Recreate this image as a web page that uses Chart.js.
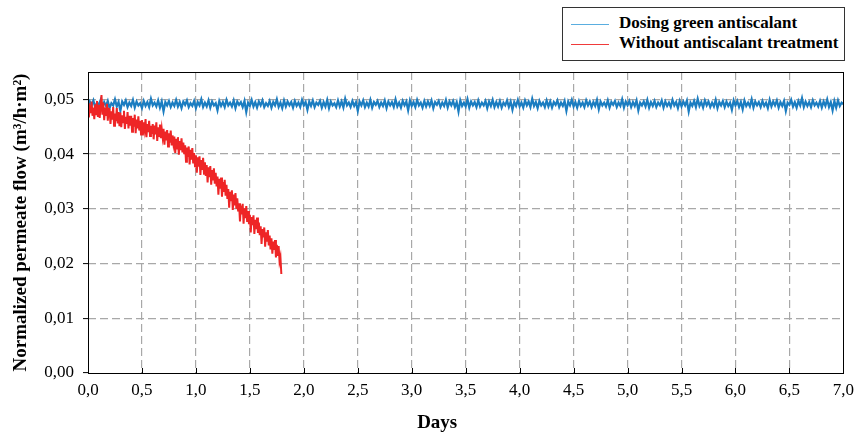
<!DOCTYPE html>
<html>
<head>
<meta charset="utf-8">
<title>Normalized permeate flow</title>
<script src="https://cdn.jsdelivr.net/npm/chart.js@4.4.1/dist/chart.umd.min.js"></script>
<style>
    body { margin: 0; background: #fff; }
    #wrap { position: relative; width: 861px; height: 439px; }
    #legend {
        position: absolute; left: 562px; top: 7px; width: 281px; height: 52px;
        border: 1px solid #333; background: #fff;
        font: bold 17px "Liberation Serif", "Times New Roman", serif; color: #000;
    }
    #legend .item { position: absolute; left: 8px; height: 20px; line-height: 20px; white-space: nowrap; }
    #legend .swatch { display: inline-block; width: 38px; height: 0; border-top: 1px solid; vertical-align: middle; margin-right: 10px; }
</style>
</head>
<body>
<div id="wrap">
    <canvas id="flowChart" width="861" height="439"></canvas>
    <div id="legend"></div>
</div>
<script>
// series names / colours
const seriesNames = ["Dosing green antiscalant", "Without antiscalant treatment"];
const seriesColors = ["#1b7dc1", "#ee2526"];

// sampling step (days) of each logged series
const blueStep = 7 / 420;
const redStep = 1 / 120;

// Dosing green antiscalant - normalized flow, m3/h·m2
const blueFlow = [
    .0487,.0496,.0489,.0498,.0485,.0494,.0490,.0499,.0486,.0495,.0488,.0497,.0484,.0493,.0489,.0500,.0487,.0495,.0479,.0496,
    .0490,.0498,.0486,.0494,.0488,.0499,.0485,.0496,.0489,.0493,.0484,.0497,.0488,.0495,.0486,.0501,.0489,.0494,.0487,.0498,
    .0485,.0496,.0478,.0495,.0489,.0497,.0486,.0494,.0488,.0499,.0487,.0495,.0484,.0496,.0490,.0498,.0486,.0493,.0488,.0497,
    .0484,.0495,.0489,.0500,.0486,.0494,.0487,.0498,.0485,.0496,.0489,.0493,.0480,.0497,.0488,.0495,.0486,.0499,.0489,.0494,
    .0487,.0498,.0484,.0496,.0490,.0495,.0486,.0497,.0477,.0494,.0488,.0499,.0487,.0495,.0485,.0496,.0489,.0498,.0486,.0493,
    .0488,.0497,.0485,.0495,.0489,.0500,.0486,.0494,.0484,.0498,.0487,.0496,.0489,.0495,.0485,.0497,.0488,.0494,.0486,.0499,
    .0489,.0495,.0481,.0496,.0488,.0498,.0486,.0494,.0490,.0497,.0485,.0495,.0487,.0499,.0484,.0496,.0489,.0493,.0486,.0498,
    .0487,.0496,.0485,.0501,.0489,.0494,.0486,.0497,.0488,.0495,.0479,.0496,.0489,.0498,.0486,.0494,.0487,.0499,.0485,.0495,
    .0490,.0497,.0486,.0494,.0488,.0498,.0484,.0496,.0489,.0495,.0486,.0500,.0487,.0494,.0485,.0497,.0489,.0496,.0480,.0498,
    .0488,.0495,.0486,.0499,.0489,.0494,.0485,.0497,.0487,.0496,.0488,.0498,.0484,.0495,.0490,.0497,.0486,.0494,.0488,.0499,
    .0485,.0496,.0489,.0497,.0486,.0495,.0478,.0498,.0488,.0494,.0487,.0500,.0485,.0496,.0489,.0495,.0486,.0498,.0487,.0494,
    .0489,.0497,.0484,.0496,.0488,.0499,.0486,.0495,.0487,.0497,.0485,.0494,.0489,.0498,.0486,.0496,.0481,.0495,.0488,.0499,
    .0487,.0494,.0485,.0498,.0489,.0496,.0486,.0501,.0488,.0495,.0484,.0497,.0489,.0494,.0486,.0498,.0487,.0496,.0485,.0495,
    .0490,.0498,.0486,.0494,.0488,.0497,.0479,.0496,.0489,.0499,.0487,.0495,.0485,.0497,.0488,.0494,.0486,.0498,.0489,.0496,
    .0486,.0495,.0488,.0499,.0482,.0496,.0489,.0494,.0487,.0498,.0485,.0495,.0490,.0497,.0486,.0494,.0488,.0500,.0485,.0496,
    .0489,.0497,.0486,.0495,.0488,.0498,.0480,.0494,.0489,.0496,.0487,.0499,.0485,.0495,.0488,.0497,.0486,.0494,.0489,.0498,
    .0485,.0496,.0488,.0494,.0486,.0499,.0489,.0495,.0484,.0497,.0487,.0496,.0489,.0498,.0478,.0494,.0488,.0497,.0486,.0501,
    .0488,.0495,.0485,.0498,.0489,.0496,.0486,.0494,.0487,.0499,.0484,.0495,.0489,.0497,.0486,.0496,.0488,.0494,.0481,.0498,
    .0489,.0497,.0486,.0495,.0482,.0498,.0488,.0494,.0487,.0500,.0485,.0496,.0489,.0495,.0486,.0497,.0488,.0494,.0484,.0499,
    .0487,.0496,.0489,.0498,.0485,.0495,.0488,.0497,.0479,.0494,.0490,.0499,.0487,.0495,.0485,.0497,.0489,.0502,.0486,.0496,
    .0488,.0495,.0486,.0498,.0489,.0494,.0487,.0497,.0485,.0496,.0488,.0500,.0486,.0495,.0480,.0497,.0485,.0498,.0488,.0494,
    .0491
];

// Without antiscalant treatment - normalized flow, m3/h·m2
const redFlow = [
    .0493,.0467,.0489,.0475,.0496,.0470,.0485,.0464,.0491,.0473,.0497,.0468,
    .0490,.0466,.0487,.0508,.0472,.0494,.0462,.0485,.0470,.0492,.0461,.0483,
    .0482,.0455,.0478,.0463,.0486,.0452,.0474,.0460,.0484,.0456,.0477,.0451,
    .0476,.0449,.0471,.0458,.0479,.0446,.0468,.0455,.0477,.0447,.0470,.0452,
    .0470,.0441,.0466,.0450,.0472,.0438,.0463,.0447,.0469,.0443,.0461,.0436,
    .0462,.0434,.0458,.0445,.0464,.0431,.0455,.0440,.0461,.0433,.0452,.0437,
    .0455,.0427,.0452,.0436,.0458,.0424,.0449,.0433,.0454,.0429,.0446,.0431,
    .0446,.0417,.0441,.0425,.0444,.0414,.0438,.0421,.0443,.0416,.0434,.0419,
    .0432,.0402,.0428,.0410,.0431,.0399,.0424,.0407,.0429,.0403,.0421,.0400,
    .0416,.0386,.0412,.0395,.0414,.0381,.0408,.0390,.0411,.0383,.0402,.0378,
    .0398,.0366,.0394,.0377,.0396,.0362,.0389,.0371,.0393,.0364,.0385,.0360,
    .0380,.0348,.0376,.0358,.0378,.0344,.0371,.0352,.0374,.0346,.0366,.0341,
    .0359,.0326,.0355,.0337,.0357,.0322,.0349,.0331,.0353,.0324,.0344,.0318,
    .0336,.0302,.0331,.0314,.0334,.0298,.0326,.0306,.0329,.0300,.0319,.0295,
    .0310,.0277,.0306,.0290,.0309,.0273,.0301,.0283,.0305,.0276,.0296,.0272,
    .0289,.0257,.0285,.0270,.0288,.0254,.0280,.0263,.0284,.0256,.0275,.0252,
    .0268,.0236,.0263,.0248,.0266,.0231,.0257,.0240,.0261,.0233,.0251,.0226,
    .0246,.0218,.0240,.0225,.0243,.0211,.0234,.0214,.0232,.0204,.0212,.0181
];

// tick labels
const xTickLabels = ["0,0","0,5","1,0","1,5","2,0","2,5","3,0","3,5","4,0","4,5","5,0","5,5","6,0","6,5","7,0"];
const yTickLabels = ["0,00","0,01","0,02","0,03","0,04","0,05"];

function toPoints(values, step) {
    return values.map((v, i) => ({ x: i * step, y: v }));
}

// legend (html, outside the canvas)
const legendEl = document.getElementById("legend");
seriesNames.forEach((name, i) => {
    const item = document.createElement("div");
    item.className = "item";
    item.style.top = (5 + i * 20) + "px";
    item.innerHTML = '<span class="swatch" style="border-color:' + (i === 0 ? "#5aaee0" : "#f03a3a") + '"></span>' + name;
    legendEl.appendChild(item);
});

// frame + inner x ticks
const framePlugin = {
    id: "frame",
    afterDraw(chart) {
        const { ctx, chartArea: a, scales } = chart;
        ctx.save();
        ctx.strokeStyle = "#000";
        ctx.lineWidth = 1;
        ctx.strokeRect(Math.round(a.left) + 0.5, Math.round(a.top) + 0.5,
            Math.round(a.right - a.left), Math.round(a.bottom - a.top));
        ctx.beginPath();
        scales.x.ticks.forEach(t => {
            const px = Math.round(scales.x.getPixelForValue(t.value)) + 0.5;
            ctx.moveTo(px, a.bottom);
            ctx.lineTo(px, a.bottom - 5);
        });
        ctx.stroke();
        ctx.restore();
    }
};

const tickFont = { family: "'Liberation Serif', 'Times New Roman', serif", size: 17 };
const titleFont = { family: "'Liberation Serif', 'Times New Roman', serif", size: 19, weight: "bold" };

new Chart(document.getElementById("flowChart").getContext("2d"), {
    type: "line",
    data: {
        datasets: [
            {
                label: seriesNames[0],
                data: toPoints(blueFlow, blueStep),
                borderColor: seriesColors[0],
                borderWidth: 2.2,
                pointRadius: 0,
                order: 1
            },
            {
                label: seriesNames[1],
                data: toPoints(redFlow, redStep),
                borderColor: seriesColors[1],
                borderWidth: 2,
                pointRadius: 0,
                order: 0
            }
        ]
    },
    options: {
        responsive: false,
        animation: false,
        layout: { padding: { left: 0, top: 72, right: 13, bottom: 0 } },
        plugins: {
            legend: { display: false },
            tooltip: { enabled: false }
        },
        scales: {
            x: {
                type: "linear",
                min: 0,
                max: 7,
                afterFit: s => { s.height = 66; },
                ticks: {
                    stepSize: 0.5,
                    padding: 7,
                    color: "#000",
                    font: tickFont,
                    maxRotation: 0,
                    callback: (v) => xTickLabels[Math.round(v * 2)]
                },
                grid: {
                    color: c => (c.tick && (c.tick.value === 0 || c.tick.value === 7)) ? "rgba(0,0,0,0)" : "#a8a8a8",
                    lineWidth: 1.2,
                    drawTicks: false
                },
                border: { display: false, dash: [8, 4] },
                title: {
                    display: true,
                    text: "Days            ",
                    color: "#000",
                    font: titleFont,
                    padding: { top: 0, bottom: 5 }
                }
            },
            y: {
                min: 0,
                max: 0.055,
                afterFit: s => { s.width = 88; },
                ticks: {
                    stepSize: 0.01,
                    includeBounds: false,
                    padding: 9,
                    color: "#000",
                    font: tickFont,
                    callback: (v) => yTickLabels[Math.round(v * 100)]
                },
                grid: {
                    color: c => (c.tick && c.tick.value === 0) ? "rgba(0,0,0,0)" : "#a8a8a8",
                    lineWidth: 1.2,
                    tickColor: "#000",
                    tickBorderDash: [],
                    tickLength: 5,
                    tickWidth: 1
                },
                border: { display: false, dash: [8, 4] },
                title: {
                    display: true,
                    text: "Normalized permeate flow (m³/h·m²)",
                    color: "#000",
                    font: titleFont,
                    padding: { top: 10, bottom: 0 }
                }
            }
        }
    },
    plugins: [framePlugin]
});
</script>
</body>
</html>
